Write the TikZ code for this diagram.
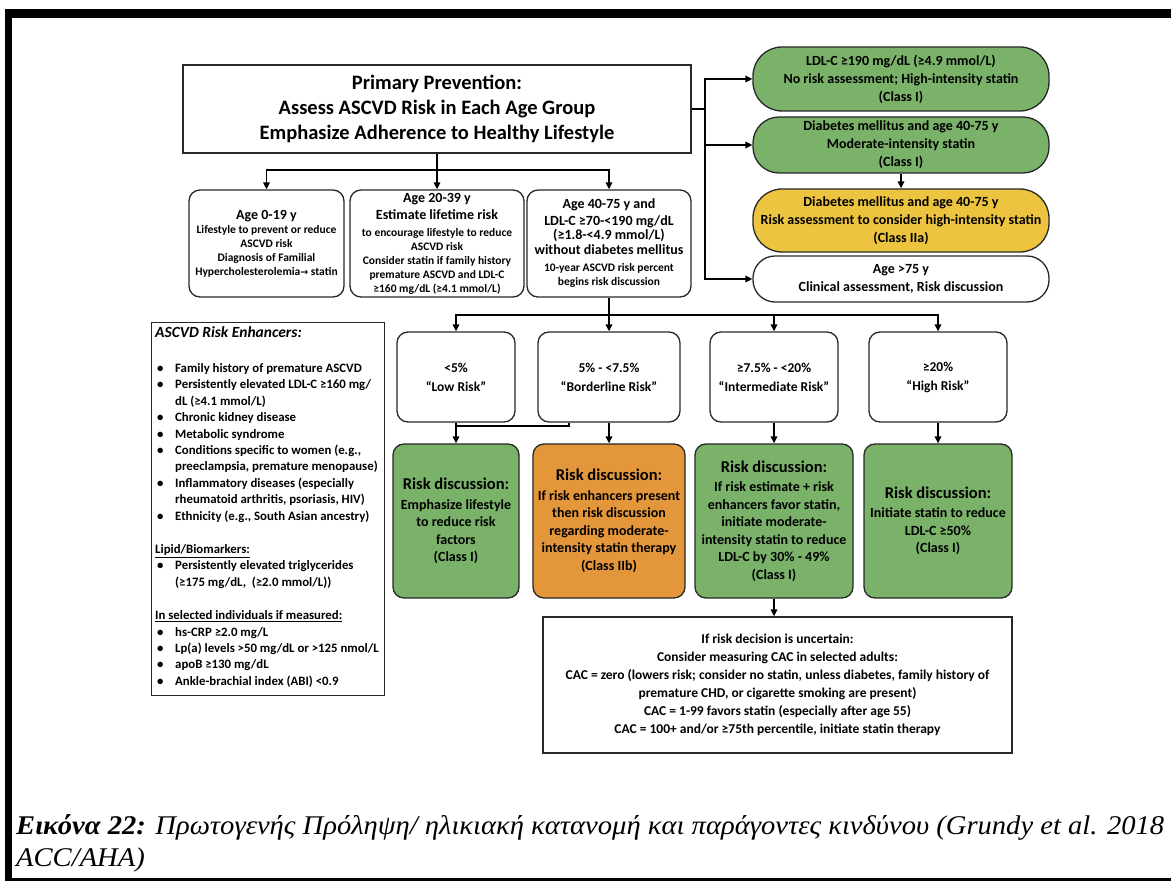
\documentclass[tikz,border=0pt]{standalone}
\usepackage{fontspec}
\usepackage{graphicx}
\setmainfont{Carlito}
\newfontfamily\capfont{Liberation Serif}
\newfontfamily\symfont{DejaVu Sans}
\usetikzlibrary{arrows.meta,calc}

\definecolor{boxgreen}{RGB}{122,178,106}
\definecolor{boxorange}{RGB}{228,150,58}
\definecolor{boxyellow}{RGB}{236,196,64}
\definecolor{edge}{RGB}{40,40,40}

\newcommand\fs[2]{\fontsize{#1}{#2}\selectfont}
\newcommand\bul{\makebox[20pt][l]{\hspace{2pt}\textbullet}}
\newcommand\ind{\hspace*{20pt}}

\tikzset{
  card/.style={draw=edge, line width=1.3pt, inner sep=0pt, align=center, font=\bfseries},
  plainbox/.style={card},
  roundbox/.style={card, rounded corners=11pt},
  link/.style={line width=1.5pt, draw=black},
  arr/.style={link, -{Triangle[length=7pt,width=6.5pt]}},
}

\newsavebox\capline
\newdimen\capw

\begin{document}
\sbox\capline{\capfont\fs{27}{27}\textbf{\textit{Εικόνα 22:}} \textit{Πρωτογενής Πρόληψη/ ηλικιακή κατανομή και παράγοντες κινδύνου (Grundy et al. 2018}}
\capw=\wd\capline
\pgfmathsetmacro\capsc{1148/\capw}
\begin{tikzpicture}[x=1pt,y=-1pt]
\useasboundingbox (0,0) rectangle (1171,882);
\fill[white] (0,0) rectangle (1171,882);

% outer frame
\fill[black] (5,9) rectangle (1171,18);
\fill[black] (5,9) rectangle (12,881);
\fill[black] (5,878) rectangle (1171,881);

% title box
\node[plainbox, minimum width=508pt, minimum height=88pt, font=\bfseries\fs{20.5}{25}] (main) at (437,109)
  {Primary Prevention:\\Assess ASCVD Risk in Each Age Group\\Emphasize Adherence to Healthy Lifestyle};

% right column
\node[card, rounded corners=29pt, fill=boxgreen, minimum width=296pt, minimum height=64pt, font=\bfseries\fs{14}{18}] (ldl) at (901,79)
  {LDL-C ≥190 mg/dL (≥4.9 mmol/L)\\No risk assessment; High-intensity statin\\(Class I)};
\node[card, rounded corners=26pt, fill=boxgreen, minimum width=296pt, minimum height=56pt, font=\bfseries\fs{14}{18}] (dmmod) at (901,145)
  {Diabetes mellitus and age 40-75 y\\Moderate-intensity statin\\(Class I)};
\node[card, rounded corners=29pt, fill=boxyellow, minimum width=296pt, minimum height=63pt, font=\bfseries\fs{14}{18}] (dmhi) at (901,220.5)
  {Diabetes mellitus and age 40-75 y\\Risk assessment to consider high-intensity statin\\(Class IIa)};
\node[card, rounded corners=22pt, fill=white, minimum width=296pt, minimum height=46pt, font=\bfseries\fs{14}{18}] (old) at (901,279)
  {Age >75 y\\Clinical assessment, Risk discussion};

\coordinate (trunk) at (705,109);
\draw[link] (main.east) -- (trunk);
\draw[arr] (trunk) |- (ldl.west);
\draw[arr] (trunk) |- (dmmod.west);
\draw[arr] (trunk) |- (old.west);
\draw[arr] (dmmod.south) -- (dmhi.north);

% age groups
\node[roundbox, minimum width=155pt, minimum height=107pt, font=\bfseries\fs{11.5}{14}] (kid) at (266.5,243.5)
  {{\fs{14}{14}Age 0-19 y}\\Lifestyle to prevent or reduce\\ASCVD risk\\Diagnosis of Familial\\Hypercholesterolemia{\symfont\fs{9.5}{14}→} statin};
\node[roundbox, minimum width=174pt, minimum height=107pt, font=\bfseries\fs{11.5}{14}] (adult) at (437,243.5)
  {{\fs{14}{14}Age 20-39 y}\\[3pt]{\fs{14}{14}Estimate lifetime risk}\\[3pt]to encourage lifestyle to reduce\\ASCVD risk\\Consider statin if family history\\premature ASCVD and LDL-C\\≥160 mg/dL (≥4.1 mmol/L)};
\node[roundbox, minimum width=164pt, minimum height=107pt, font=\bfseries\fs{11.5}{14}] (mid) at (609,243.5)
  {{\fs{14}{14}Age 40-75 y and}\\[3pt]{\fs{14}{14}LDL-C ≥70-<190 mg/dL}\\{\fs{14}{14}(≥1.8-<4.9 mmol/L)}\\[1pt]{\fs{14}{14}without diabetes mellitus}\\[3pt]10-year ASCVD risk percent\\begins risk discussion};

\coordinate (abar) at (437,170);
\draw[arr] (main.south) -- (adult.north);
\draw[arr] (abar) -| (kid.north);
\draw[arr] (abar) -| (mid.north);

% risk categories
\node[roundbox, minimum width=118pt, minimum height=90pt, font=\bfseries\fs{13.5}{19}] (low) at (456,377) {<5\%\\“Low Risk”};
\node[roundbox, minimum width=142pt, minimum height=90pt, font=\bfseries\fs{13.5}{19}] (bord) at (609,377) {5\% - <7.5\%\\“Borderline Risk”};
\node[roundbox, minimum width=128pt, minimum height=90pt, font=\bfseries\fs{13.5}{19}] (inter) at (774,377) {≥7.5\% - <20\%\\“Intermediate Risk”};
\node[roundbox, minimum width=138pt, minimum height=90pt, font=\bfseries\fs{13.5}{19}] (high) at (938,377) {≥20\%\\“High Risk”};

\coordinate (rbar) at (609,315);
\draw[arr] (mid.south) -- (bord.north);
\draw[arr] (rbar) -| (low.north);
\draw[arr] (rbar) -| (inter.north);
\draw[arr] (rbar) -| (high.north);

% risk discussions
\node[roundbox, fill=boxgreen, minimum width=126pt, minimum height=154pt, font=\bfseries\fs{14}{17.5}] (lowtx) at (456,521)
  {{\fs{16.5}{17.5}Risk discussion:}\\[2pt]Emphasize lifestyle\\to reduce risk\\factors\\(Class I)};
\node[roundbox, fill=boxorange, minimum width=152pt, minimum height=154pt, font=\bfseries\fs{14}{17.5}] (bordtx) at (609,521)
  {{\fs{16.5}{17.5}Risk discussion:}\\[2pt]If risk enhancers present\\then risk discussion\\regarding moderate-\\intensity statin therapy\\(Class IIb)};
\node[roundbox, fill=boxgreen, minimum width=158pt, minimum height=154pt, font=\bfseries\fs{14}{17.5}] (intertx) at (774,521)
  {{\fs{16.5}{17.5}Risk discussion:}\\[2pt]If risk estimate + risk\\enhancers favor statin,\\initiate moderate-\\intensity statin to reduce\\LDL-C by 30\% - 49\%\\(Class I)};
\node[roundbox, fill=boxgreen, minimum width=148pt, minimum height=154pt, font=\bfseries\fs{14}{17.5}] (hightx) at (938,521)
  {{\fs{16.5}{17.5}Risk discussion:}\\[2pt]Initiate statin to reduce\\LDL-C ≥50\%\\(Class I)};

\coordinate (lowjoin) at (456,426);
\draw[link] (low.south) -- (lowjoin) -| ([xshift=-40pt]bord.south);
\draw[arr] (lowjoin) -- (lowtx.north);
\draw[arr] (bord.south) -- (bordtx.north);
\draw[arr] (inter.south) -- (intertx.north);
\draw[arr] (high.south) -- (hightx.north);

% coronary calcium box
\node[plainbox, minimum width=469pt, minimum height=136pt, font=\bfseries\fs{13.5}{18}] (cac) at (777.5,685)
  {If risk decision is uncertain:\\Consider measuring CAC in selected adults:\\CAC = zero (lowers risk; consider no statin, unless diabetes, family history of\\premature CHD, or cigarette smoking are present)\\CAC = 1-99 favors statin (especially after age 55)\\CAC = 100+ and/or ≥75th percentile, initiate statin therapy};
\draw[arr] (intertx.south) -- (intertx.south |- cac.north);

% risk enhancers list
\node[plainbox, anchor=north west, minimum width=233pt, minimum height=373pt] (enh) at (151,322) {};
\node[anchor=north west, inner sep=0pt, align=left, font=\bfseries\fs{12.8}{16.4}] (enhtxt) at (155,326) {%
{\itshape\fs{15.5}{16.4}ASCVD Risk Enhancers:}\\[19pt]
\bul Family history of premature ASCVD\\
\bul Persistently elevated LDL-C ≥160 mg/\\
\ind dL (≥4.1 mmol/L)\\
\bul Chronic kidney disease\\
\bul Metabolic syndrome\\
\bul Conditions specific to women (e.g.,\\
\ind preeclampsia, premature menopause)\\
\bul Inflammatory diseases (especially\\
\ind rheumatoid arthritis, psoriasis, HIV)\\
\bul Ethnicity (e.g., South Asian ancestry)\\[17pt]
\underline{Lipid/Biomarkers:}\\
\bul Persistently elevated triglycerides\\
\ind (≥175 mg/dL,~~(≥2.0 mmol/L))\\[17pt]
\underline{In selected individuals if measured:}\\
\bul hs-CRP ≥2.0 mg/L\\
\bul Lp(a) levels >50 mg/dL or >125 nmol/L\\
\bul apoB ≥130 mg/dL\\
\bul Ankle-brachial index (ABI) <0.9};

% caption
\node[anchor=base west, inner sep=0pt] (cap1) at (16,834) {\scalebox{\capsc}[1]{\usebox\capline}};
\node[anchor=base west, inner sep=0pt] (cap2) at (16,866) {\scalebox{\capsc}[1]{\capfont\fs{27}{27}\textit{ACC/AHA)}}};
\end{tikzpicture}
\end{document}
